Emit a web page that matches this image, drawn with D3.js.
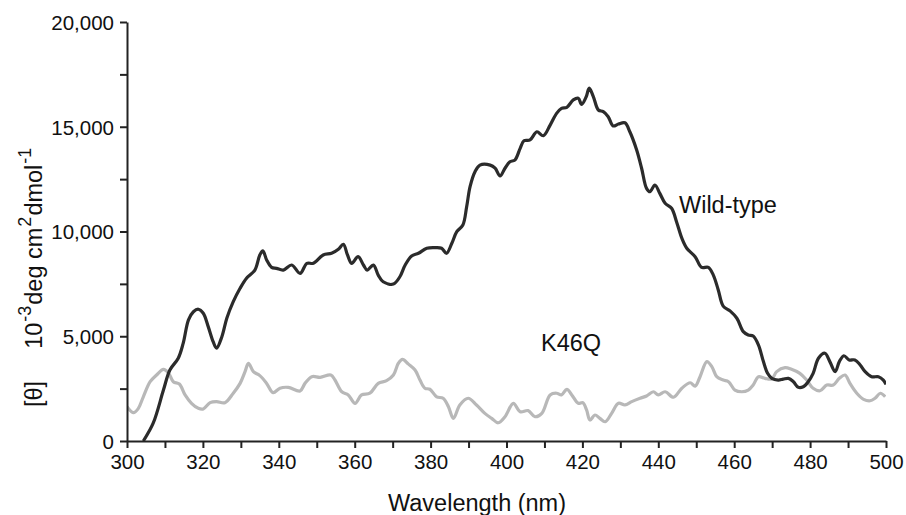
<!DOCTYPE html>
<html>
<head>
<meta charset="utf-8">
<script src="https://cdn.jsdelivr.net/npm/d3@7"></script>
<style>
  body { margin: 0; background: #fff; }
  text { font-family: "Liberation Sans", Arial, sans-serif; fill: #111; }
  .tick text { font-size: 20.5px; }
  .label { font-size: 23.5px; }
</style>
</head>
<body>
<svg width="906" height="515"></svg>
<script>
// wild-type CD spectrum (nm / mdeg units)
const wtNm = [304.3, 306.9, 309.6, 311.3, 313.5, 314.8, 316.2, 317.5, 318.8, 320.1, 321.4, 322.7, 323.6, 325.0, 326.3,
  328.0, 329.8, 331.5, 333.7, 335.0, 335.8, 336.8, 338.1, 339.4, 341.2, 343.4, 345.6, 347.4, 349.1, 351.7, 353.9,
  355.7, 357.0, 358.1, 359.2, 360.9, 362.3, 363.3, 364.9, 366.2, 367.5, 370.2, 371.9, 373.3, 375.0, 376.8, 379.0,
  381.2, 382.9, 384.2, 385.6, 386.9, 388.5, 389.5, 390.4, 391.7, 393.0, 395.7, 397.0, 398.3, 399.6, 400.9, 402.2,
  403.6, 404.6, 406.2, 408.0, 409.7, 411.5, 413.2, 414.5, 415.9, 417.6, 418.9, 419.8, 421.0, 421.8, 422.9, 424.2,
  425.5, 426.8, 428.1, 429.5, 431.2, 432.5, 434.3, 435.6, 436.9, 437.8, 439.1, 440.4, 441.8, 443.5, 444.8, 446.2,
  447.5, 449.7, 451.4, 453.2, 454.5, 455.8, 457.1, 458.9, 460.7, 462.4, 463.7, 465.0, 466.4, 467.7, 468.8, 469.9,
  471.6, 472.9, 474.3, 475.6, 476.9, 478.2, 479.5, 480.8, 482.2, 483.9, 485.2, 486.6, 487.7, 488.9, 490.3, 491.8,
  493.2, 494.5, 496.2, 498.0, 499.3, 500.0];
const wtVal = [0, 850, 2430, 3390, 3950, 4660, 5780, 6170, 6290, 6100, 5460, 4740, 4430, 4980, 5860,
  6650, 7290, 7770, 8160, 8880, 9080, 8640, 8290, 8240, 8160, 8400, 8000, 8480, 8480, 8880, 8960,
  9150, 9390, 8880, 8480, 8800, 8400, 8160, 8400, 7920, 7600, 7490, 7840, 8400, 8830, 8960, 9200,
  9230, 9200, 8960, 9440, 9990, 10310, 11180, 12140, 12850, 13170, 13170, 13020, 12650, 13020, 13330, 13410,
  13970, 14330, 14370, 14760, 14570, 15080, 15640, 15880, 15930, 16280, 16360, 16070, 16430, 16840, 16430, 15800,
  15720, 15480, 15040, 15130, 15190, 14760, 13890, 13020, 12060, 11900, 12220, 11820, 11350, 11110, 10470, 9680,
  9200, 8800, 8290, 8290, 7920, 7210, 6440, 6210, 5860, 5220, 5060, 5010, 4580, 3790, 3230, 2990,
  2910, 2950, 2990, 2830, 2560, 2590, 2830, 3230, 3950, 4190, 3790, 3310, 3790, 4070, 3870, 3870,
  3630, 3310, 3070, 3070, 2910, 2700];

// K46Q mutant
const k46qNm = [300.0, 301.7, 303.0, 304.3, 306.1, 307.8, 309.6, 310.9, 312.2, 313.8, 315.3, 317.0, 318.8, 320.1,
  321.9, 323.6, 325.8, 328.0, 329.8, 331.1, 332.0, 333.3, 335.0, 336.8, 338.5, 340.3, 342.5, 345.6, 346.9, 348.7,
  350.9, 353.7, 354.8, 356.6, 358.3, 360.1, 361.8, 364.0, 366.2, 368.4, 370.2, 371.5, 372.6, 374.1, 375.9, 377.2,
  378.5, 379.8, 381.6, 383.3, 384.7, 386.0, 387.7, 389.9, 392.1, 394.3, 396.1, 397.8, 399.6, 401.8, 403.6, 405.7,
  407.5, 409.3, 411.5, 413.2, 414.5, 415.9, 417.2, 418.9, 420.1, 421.1, 422.0, 423.3, 424.6, 426.0, 427.7, 429.5,
  431.2, 433.0, 435.2, 436.9, 438.7, 440.0, 441.8, 444.0, 446.2, 448.4, 449.7, 451.0, 452.8, 454.1, 455.4, 457.1,
  458.5, 460.2, 462.0, 463.7, 465.0, 466.4, 468.1, 469.9, 471.2, 473.4, 475.1, 477.3, 479.1, 480.8, 482.6, 484.4,
  486.1, 487.7, 489.2, 490.5, 492.3, 494.1, 495.8, 497.1, 498.5, 499.8];
const k46qVal = [1640, 1350, 1560, 2110, 2830, 3150, 3420, 3260, 2830, 2720, 2200, 1800, 1560, 1530,
  1830, 1880, 1830, 2280, 2750, 3310, 3710, 3310, 3120, 2750, 2310, 2520, 2560, 2390, 2750, 3070,
  3040, 3150, 2910, 2350, 2200, 1800, 2200, 2280, 2750, 2880, 3150, 3710, 3900, 3680, 3390, 2910,
  2520, 2470, 2110, 2040, 1640, 1080, 1720, 2040, 1720, 1320, 1080, 870, 1160, 1800, 1400, 1450,
  1160, 1320, 2200, 2280, 2200, 2470, 2200, 1800, 1830, 1480, 1000, 1240, 1080, 920, 1320, 1800,
  1720, 1880, 2040, 2150, 2350, 2200, 2350, 2090, 2520, 2780, 2620, 3070, 3790, 3550, 3070, 2910,
  2830, 2430, 2350, 2430, 2670, 3070, 2990, 2960, 3310, 3500, 3420, 3230, 2910, 2520, 2400, 2670,
  2670, 2990, 3150, 2750, 2280, 1990, 1920, 2040, 2280, 2110];

const xTicks = d3.range(300, 501, 10);
const yTicks = d3.range(0, 20001, 2500);

const svg = d3.select('svg');
const marg = { cima: 22, direita: 20, baixo: 74, esquerda: 127 };

const xEscala = d3.scaleLinear().domain([300, 500]).range([marg.esquerda, 886]);
const yEscala = d3.scaleLinear().domain([0, 20000]).range([441, marg.cima]);

const xAxis = d3.axisBottom(xEscala)
  .tickValues(xTicks)
  .tickSize(7).tickSizeOuter(0).tickPadding(6)
  .tickFormat(d => d % 20 === 0 ? d : '');

const yAxis = d3.axisLeft(yEscala)
  .tickValues(yTicks)
  .tickSize(7).tickSizeOuter(0).tickPadding(6)
  .tickFormat(d => d % 5000 === 0 ? d3.format(',')(d) : '');

svg.append('clipPath').attr('id', 'plot')
  .append('rect')
  .attr('x', marg.esquerda).attr('y', marg.cima)
  .attr('width', 886 - marg.esquerda).attr('height', 441 - marg.cima);

const linha = d3.line()
  .x(d => xEscala(d[0]))
  .y(d => yEscala(d[1]))
  .curve(d3.curveCatmullRom.alpha(0.5));

const g = svg.append('g').attr('clip-path', 'url(#plot)');

g.append('path')
  .datum(k46qNm.map((n, i) => [n, k46qVal[i]]))
  .attr('d', linha)
  .attr('fill', 'none')
  .attr('stroke', '#b8b8b8')
  .attr('stroke-width', 3.2)
  .attr('stroke-linejoin', 'round');

g.append('path')
  .datum(wtNm.map((n, i) => [n, wtVal[i]]))
  .attr('d', linha)
  .attr('fill', 'none')
  .attr('stroke', '#2b2b2b')
  .attr('stroke-width', 3.2)
  .attr('stroke-linejoin', 'round');

const xAxisG = svg.append('g')
  .attr('transform', 'translate(0,441)')
  .call(xAxis);
const yAxisG = svg.append('g')
  .attr('transform', `translate(${marg.esquerda},0)`)
  .call(yAxis);

[xAxisG, yAxisG].forEach(a => {
  a.select('.domain').attr('stroke', '#222').attr('stroke-width', 2);
  a.selectAll('.tick line').attr('stroke', '#222').attr('stroke-width', 2);
  a.selectAll('.tick text').attr('fill', '#111');
});
yAxisG.selectAll('.tick text').attr('dy', '0.36em');

// axis titles
svg.append('text')
  .attr('class', 'label')
  .attr('x', 477).attr('y', 511)
  .attr('text-anchor', 'middle')
  .text('Wavelength (nm)');

const yLab = svg.append('text')
  .attr('class', 'label')
  .attr('transform', 'translate(42,407) rotate(-90)');
yLab.append('tspan').text('[θ]');
yLab.append('tspan').attr('dx', 32).text('10');
yLab.append('tspan').attr('dy', -11).attr('dx', 1).attr('font-size', 18).text('-3');
yLab.append('tspan').attr('dy', 11).attr('dx', 1).text('deg cm');
yLab.append('tspan').attr('dy', -11).attr('dx', 1).attr('font-size', 18).text('2');
yLab.append('tspan').attr('dy', 11).attr('dx', 1).text('dmol');
yLab.append('tspan').attr('dy', -11).attr('dx', 1).attr('font-size', 18).text('-1');

// series labels
svg.append('text').attr('class', 'label').attr('x', 679).attr('y', 213).text('Wild-type');
svg.append('text').attr('class', 'label').attr('x', 541).attr('y', 351).text('K46Q');
</script>
</body>
</html>
